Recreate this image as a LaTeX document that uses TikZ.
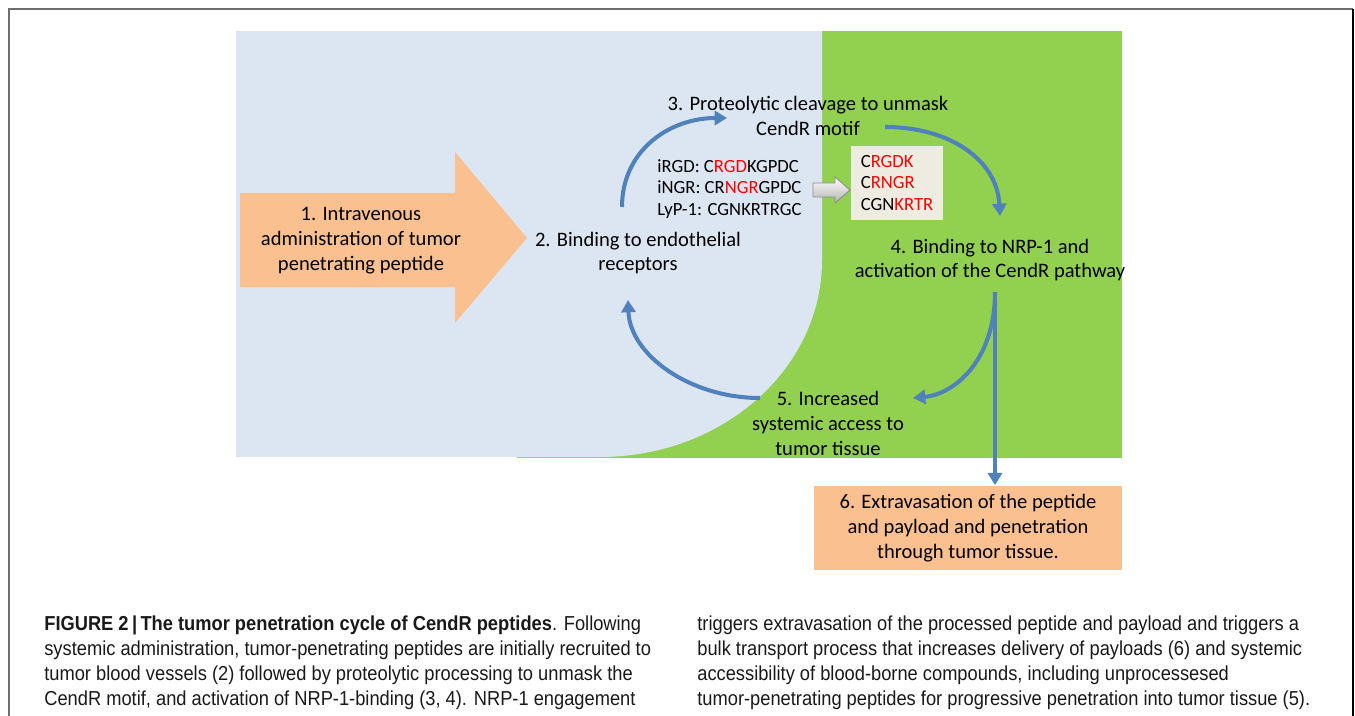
\documentclass[tikz,border=0pt]{standalone}
\usepackage{fontspec}
\setmainfont{Carlito}
\newfontfamily\capfont[FakeStretch=0.905]{Liberation Sans}
\usetikzlibrary{arrows.meta,positioning}
\definecolor{cdblue}{RGB}{220,230,242}
\definecolor{cdgreen}{RGB}{146,208,80}
\definecolor{cdorange}{RGB}{250,192,144}
\definecolor{cdarrow}{RGB}{79,129,189}
\definecolor{cdred}{RGB}{255,0,0}
\definecolor{cdbeige}{RGB}{238,236,225}
\definecolor{cdgray}{RGB}{110,110,110}

\begin{document}
\begin{tikzpicture}[x=0.02cm, y=-0.02cm, >={Triangle[length=7pt,width=8pt]},
  stagetext/.style={align=center, inner sep=0pt, font=\fontsize{11.7}{14.2}\selectfont},
  pep/.style={anchor=base west, inner sep=0pt, font=\fontsize{10.6}{12}\selectfont},
  cyc/.style={->, cdarrow, line width=2.3pt},
  capline/.style={anchor=base west, inner sep=0pt, text=black!90, font=\capfont\fontsize{11.5}{14}\selectfont}]
  \useasboundingbox (0,0) rectangle (1355,716);
  % frame
  \draw[cdgray, line width=0.8pt] (9,716) -- (9,9) -- (1353,9);
  \draw[black, line width=1.4pt] (1353,9) -- (1353,716);
  % background: blood vessel / tumor tissue
  \fill[cdgreen] (517,31) rectangle (1122,458);
  \fill[cdblue] (236,31) -- (822,31) -- (822,260)
    arc[start angle=0, end angle=90, x radius=222, y radius=197] -- (236,457) -- cycle;
  % big input arrow
  \fill[cdorange] (240,193) -- (455,193) -- (455,152) -- (527,238) -- (455,323)
    -- (455,287) -- (240,287) -- cycle;
  % stages
  \node[stagetext] (intra) at (361,241) {1. Intravenous\\administration of tumor\\penetrating peptide};
  \node[stagetext] (bind) at (638,253) {2. Binding to endothelial\\receptors};
  \node[stagetext] (cleave) at (808,116) {3. Proteolytic cleavage to unmask\\CendR motif};
  \node[stagetext] (nrp) at (990,260) {4. Binding to NRP-1 and\\activation of the CendR pathway};
  \node[stagetext] (access) at (828,423) {5. Increased\\systemic access to\\tumor tissue};
  \node[stagetext, fill=cdorange, minimum width=6.16cm, minimum height=1.7cm]
    (extra) at (968,528) {6. Extravasation of the peptide\\and payload and penetration\\through tumor tissue.};
  % peptides
  \node[pep] (irgd) at (657,173) {iRGD: C\textcolor{cdred}{RGD}KGPDC};
  \node[pep] (ingr) at (657,194) {iNGR: CR\textcolor{cdred}{NGR}GPDC};
  \node[pep] (lyp) at (657,215) {LyP-1: CGNKRTRGC};
  \node[fill=cdbeige, align=left, inner sep=0pt, minimum width=1.84cm, minimum height=1.5cm,
    font=\fontsize{10.6}{12.2}\selectfont] (cendr) at (897,183)
    {C\textcolor{cdred}{RGDK}\\C\textcolor{cdred}{RNGR}\\CGN\textcolor{cdred}{KRTR}};
  \shade[top color=white, bottom color=black!30, draw=black!45, line width=0.5pt]
    (813,183) -- (835,183) -- (835,177) -- (850,190) -- (835,203) -- (835,197) -- (813,197) -- cycle;
  % cycle arrows
  \coordinate (bindtop) at (622,207);
  \coordinate (cleavein) at (727,118);
  \coordinate (cleaveout) at (885,127);
  \coordinate (nrptop) at (1000,216);
  \coordinate (nrpout) at (995,292);
  \coordinate (accessin) at (913,398);
  \coordinate (accessout) at (760,398);
  \coordinate (bindlow) at (628,300);
  \draw[cyc] (bindtop) .. controls (622,150) and (670,118) .. (cleavein);
  \draw[cyc] (cleaveout) .. controls (950,127) and (997,160) .. (nrptop);
  \draw[cyc] (nrpout) .. controls (995,360) and (955,394) .. (accessin);
  \draw[cyc] (nrpout) -- (extra.north -| nrpout);
  \draw[cyc] (accessout) .. controls (690,398) and (630,355) .. (bindlow);
  % caption
  \node[capline] (cap1) at (44,630) {\textbf{FIGURE 2\,|\,The tumor penetration cycle of CendR peptides}. Following};
  \node[capline] (cap2) at (44,655) {systemic administration, tumor-penetrating peptides are initially recruited to};
  \node[capline] (cap3) at (44,680) {tumor blood vessels (2) followed by proteolytic processing to unmask the};
  \node[capline] (cap4) at (44,705) {CendR motif, and activation of NRP-1-binding (3, 4). NRP-1 engagement};
  \node[capline] (cap5) at (697,630) {triggers extravasation of the processed peptide and payload and triggers a};
  \node[capline] (cap6) at (697,655) {bulk transport process that increases delivery of payloads (6) and systemic};
  \node[capline] (cap7) at (697,680) {accessibility of blood-borne compounds, including unprocessesed};
  \node[capline] (cap8) at (697,705) {tumor-penetrating peptides for progressive penetration into tumor tissue (5).};
\end{tikzpicture}
\end{document}
